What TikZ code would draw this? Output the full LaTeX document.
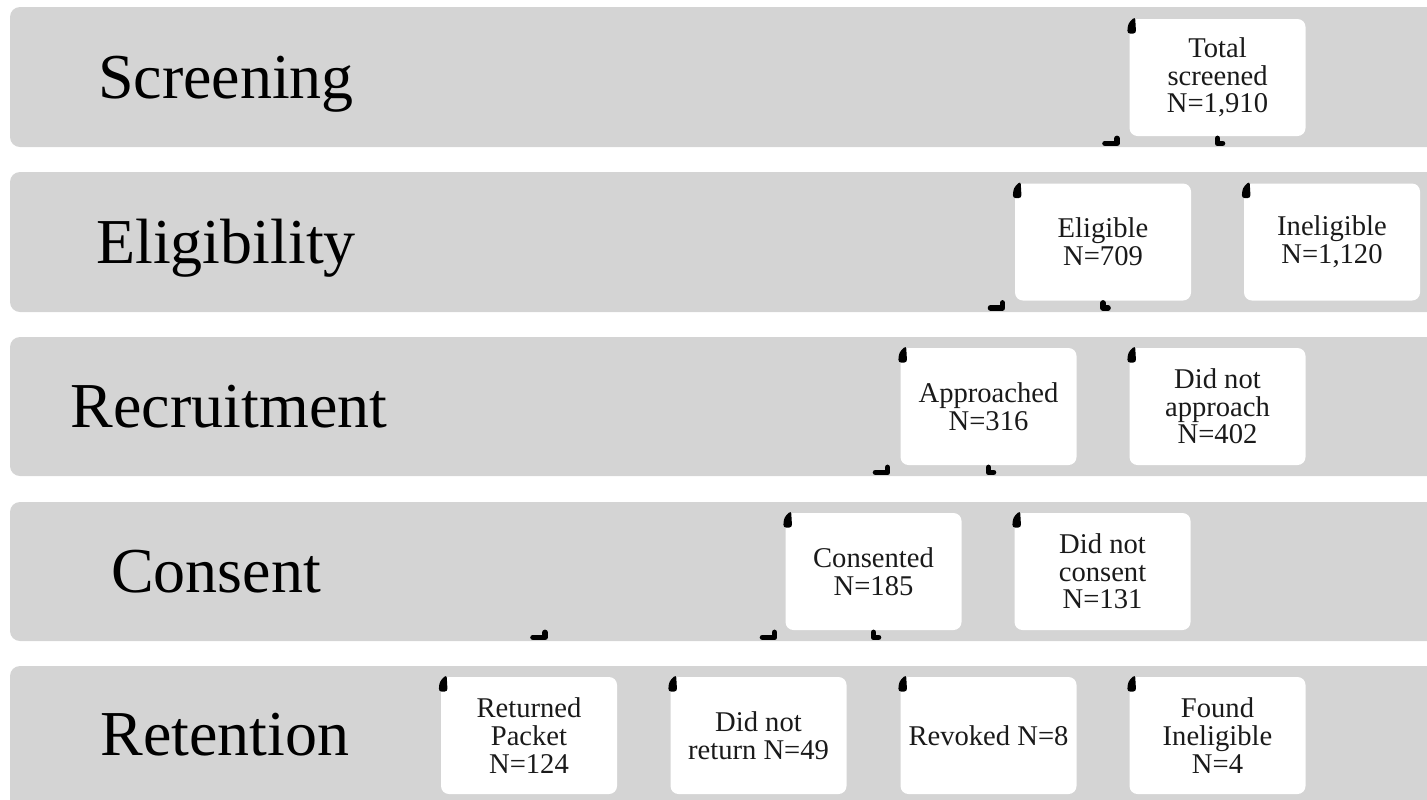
\documentclass[tikz,border=0pt]{standalone}
\usepackage{fontspec}
\setmainfont{Liberation Serif}
\usetikzlibrary{calc}
\definecolor{bandgray}{HTML}{D4D4D4}
\definecolor{inkgray}{HTML}{1A1A1A}
\begin{document}
\begin{tikzpicture}[x=0.5pt,y=-0.5pt,
  band/.style={fill=bandgray,rounded corners=5pt},
  phase/.style={anchor=base,font=\fontsize{32}{36}\selectfont},
  stage/.style={fill=white,rounded corners=4pt,minimum width=88pt,minimum height=58.5pt,
    align=center,inner sep=1pt,text=inkgray,font=\fontsize{14.3}{13.8}\selectfont},
  stub/.style={line width=2.8pt,line cap=round,line join=round},
  drop/.style={fill=black,rounded corners=1.5pt}]
\useasboundingbox (0,0) rectangle (1427,799);
\clip (0,0) rectangle (1427,799);
% bands
\fill[band] (10,7) rectangle (1450,147);
\fill[band] (10,172) rectangle (1450,312);
\fill[band] (10,337) rectangle (1450,476);
\fill[band] (10,502) rectangle (1450,641);
\fill[band] (10,666) rectangle (1450,830);
\node[phase] (scr) at (226,98) {Screening};
\node[phase] (eli) at (226,263) {Eligibility};
\node[phase] (rec) at (229,427) {Recruitment};
\node[phase] (con) at (216,592) {Consent};
\node[phase] (reten) at (225,755) {Retention};
% boxes
\node[stage] (tot) at (1217.5,77.5) {Total\\screened\\N=1,910};
\node[stage] (elig) at (1103,242) {Eligible\\N=709};
\node[stage] (inel) at (1332,242) {Ineligible\\N=1,120};
\node[stage] (appr) at (988.5,406.5) {Approached\\N=316};
\node[stage] (noap) at (1217.5,406.5) {Did not\\approach\\N=402};
\node[stage] (cons) at (873.5,571.5) {Consented\\N=185};
\node[stage] (nocons) at (1102.5,571.5) {Did not\\consent\\N=131};
\node[stage] (ret) at (529,735.5) {Returned\\Packet\\N=124};
\node[stage] (noret) at (758.5,735.5) {Did not\\return N=49};
\node[stage] (rev) at (988.5,735.5) {Revoked N=8};
\node[stage] (found) at (1217.5,735.5) {Found\\Ineligible\\N=4};
% connector stubs
\foreach \n in {tot,elig,inel,appr,noap,cons,nocons,ret,noret,rev,found}
  \fill[drop] ($(\n.north west)+(-2,15)$) -- ++(1,-10) -- ++(7,-7) -- ++(1,17) -- cycle;
\draw[stub] (elig.north |- tot.south) ++(2,7) -- ++(12,0) -- ++(0,-5);
\draw[stub] (tot.south) ++(0,2) -- ++(0,5) -- ++(5,0);
\draw[stub] (appr.north |- elig.south) ++(2,7) -- ++(12,0) -- ++(0,-5);
\draw[stub] (elig.south) ++(0,2) -- ++(0,5) -- ++(5,0);
\draw[stub] (cons.north |- appr.south) ++(2,7) -- ++(12,0) -- ++(0,-5);
\draw[stub] (appr.south) ++(0,2) -- ++(0,5) -- ++(5,0);
\draw[stub] (ret.north |- cons.south) ++(4,7) -- ++(12,0) -- ++(0,-5);
\draw[stub] (noret.north |- cons.south) ++(4,7) -- ++(12,0) -- ++(0,-5);
\draw[stub] (cons.south) ++(0,2) -- ++(0,5) -- ++(5,0);
\end{tikzpicture}
\end{document}
